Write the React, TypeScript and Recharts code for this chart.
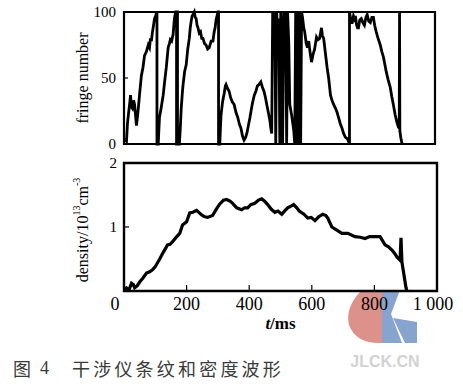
import React from "react";
import { LineChart, Line, XAxis, YAxis, ReferenceArea } from "recharts";

// fringe trace, t in ms, fringe number
const fringeTime = [
  0, 8, 11, 14, 18, 21, 24, 27, 31, 34, 37, 40, 43, 46, 51, 56, 61, 66, 72, 78, 82, 85, 88, 91, 95, 98, 102, 104, 106, 106,
  110, 114, 120, 126, 131, 136, 142, 146, 149, 153, 158, 162, 166, 169, 169, 171, 171, 172, 172,
  178, 181, 184, 188, 190, 195, 200, 205, 210, 213, 216, 219, 222, 226, 229, 232, 235, 238, 242, 246, 250, 254, 259, 264, 269, 274, 280, 286, 290, 293, 296, 299, 302, 304, 304,
  308, 310, 312, 317, 322, 326, 328, 333, 338, 343, 348, 354, 360, 366, 371, 376, 381, 386, 391, 395, 400, 405, 410, 414, 419, 424, 429, 434, 440, 445, 450, 455, 459, 464, 469, 472, 475,
  478, 482, 485, 488, 491, 494, 498, 501, 504, 507, 510, 514, 517, 520, 523, 526, 530, 533, 539, 546, 549, 552, 555, 558, 562, 565, 568, 571,
  574, 578, 581, 586, 590, 594, 598, 603, 608, 613, 619, 624, 629, 635, 638, 642, 648, 653, 658, 664, 669, 674, 680, 685, 690, 696, 701, 706, 712, 718, 722, 725, 725,
  728, 731, 734, 738, 741, 744, 748, 751, 754, 758, 763, 768, 773, 778, 782, 787, 792, 797, 802, 806, 811, 817, 824, 829, 834, 839, 843, 849, 856, 861, 866, 869, 872, 875, 878, 882, 885, 886, 887, 890, 894,
];
const fringeValue = [
  4, 2, 15, 22, 30, 37, 28, 27, 33, 30, 22, 14, 20, 27, 40, 52, 58, 67, 70, 75, 73, 80, 78, 84, 90, 95, 97, 99, 100, 0,
  0, 20, 28, 37, 48, 58, 73, 76, 79, 78, 83, 95, 100, 100, 0, 0, 100, 100, 0,
  0, 12, 27, 40, 45, 55, 60, 72, 80, 88, 93, 97, 98, 100, 96, 95, 90, 88, 84, 85, 80, 80, 76, 75, 72, 73, 78, 78, 85, 88, 94, 97, 100, 100, 0,
  0, 12, 22, 32, 38, 44, 45, 42, 40, 35, 32, 30, 24, 20, 15, 12, 6, 3, 5, 8, 14, 20, 27, 32, 37, 40, 44, 45, 47, 43, 40, 35, 30, 24, 18, 12, 8,
  100, 82, 100, 0, 100, 78, 95, 0, 100, 85, 0, 100, 88, 100, 0, 100, 75, 30, 22, 10, 0, 100, 0, 100, 0, 100, 0, 100,
  96, 88, 85, 76, 73, 78, 70, 62, 68, 72, 81, 79, 80, 88, 82, 80, 68, 58, 50, 37, 33, 30, 27, 24, 20, 15, 12, 8, 5, 4, 2, 0, 100,
  96, 92, 92, 97, 95, 97, 90, 88, 88, 94, 95, 92, 90, 96, 98, 93, 92, 96, 96, 90, 85, 80, 75, 70, 66, 60, 55, 49, 43, 36, 30, 26, 22, 19, 16, 13, 12, 100, 10, 5, 0,
];

// plasma density, 10^13 cm^-3
const densityTime = [
  0, 8, 16, 24, 30, 34, 42, 50, 60, 72, 82, 91, 100, 114, 125, 139, 147, 155, 165, 178, 187, 200, 205, 210, 220, 232, 248, 258, 267, 283,
  295, 306, 318, 328, 340, 347, 360, 376, 385, 395, 405, 418, 430, 440, 450, 459, 470, 482, 492, 504, 515, 523, 535, 542, 552, 560, 575, 587,
  598, 610, 622, 635, 645, 651, 664, 680, 696, 715, 738, 755, 770, 785, 802, 818, 834, 845, 856, 866, 872, 882, 885, 888, 901, 904,
];
const densityValue = [
  0.03, 0.05, 0.02, 0.12, 0.1, 0.05, 0.08, 0.14, 0.2, 0.28, 0.3, 0.33, 0.38, 0.5, 0.6, 0.72, 0.73, 0.77, 0.83, 0.9, 1.03, 1.08, 1.15, 1.22, 1.23, 1.26, 1.19, 1.16, 1.15, 1.18,
  1.28, 1.36, 1.42, 1.43, 1.4, 1.37, 1.3, 1.27, 1.3, 1.3, 1.35, 1.37, 1.42, 1.44, 1.4, 1.35, 1.28, 1.23, 1.25, 1.2, 1.26, 1.3, 1.33, 1.35, 1.3, 1.25, 1.2, 1.14,
  1.15, 1.1, 1.16, 1.2, 1.18, 1.14, 1.0, 0.95, 0.9, 0.9, 0.85, 0.84, 0.82, 0.85, 0.85, 0.85, 0.72, 0.69, 0.64, 0.58, 0.53, 0.48, 0.83, 0.45, 0.05, 0,
];

const fringeTicks = [0, 50, 100];
const densityTicks = [0, 1, 2];
const timeTicks = [0, 200, 400, 600, 800, 1000];
const timeTickLabels = ["0", "200", "400", "600", "800", "1 000"];

const fringeData = fringeTime.map((t, i) => ({ t, f: fringeValue[i] }));
const densityData = densityTime.map((t, i) => ({ t, d: densityValue[i] }));

const serif = "'Liberation Serif', 'DejaVu Serif', serif";

const YTick = ({ x, y, payload, hideZero }: any) => {
  if (hideZero && payload.value === 0) return null;
  return (
    <text x={x} y={y} dy="0.35em" textAnchor="end" fontFamily={serif} fontSize={15} fill="#000">
      {payload.value}
    </text>
  );
};

const TimeTick = ({ x, y, payload }: any) => {
  const i = timeTicks.indexOf(payload.value);
  const shift = payload.value === 0 ? -9 : payload.value === 1000 ? -4 : 0;
  return (
    <text x={x + shift} y={y} dy="0.71em" textAnchor="middle" fontFamily={serif} fontSize={18} fill="#000">
      {timeTickLabels[i]}
    </text>
  );
};

const FringeLabel = ({ viewBox }: any) => {
  const cx = viewBox.x + viewBox.width - 42;
  const cy = viewBox.y + viewBox.height / 2;
  return (
    <text x={cx} y={cy} transform={`rotate(-90 ${cx} ${cy})`} textAnchor="middle" dominantBaseline="central"
      fontFamily={serif} fontSize={16} fill="#000">
      fringe number
    </text>
  );
};

const DensityLabel = ({ viewBox }: any) => {
  const cx = viewBox.x + viewBox.width - 42;
  const cy = viewBox.y + viewBox.height / 2 + 3;
  return (
    <text x={cx} y={cy} transform={`rotate(-90 ${cx} ${cy})`} textAnchor="middle" dominantBaseline="central"
      fontFamily={serif} fontSize={16} fill="#000">
      density/10<tspan fontSize={10} dy={-6}>13</tspan>
      <tspan dy={6}>cm</tspan>
      <tspan fontSize={10} dy={-6}>-3</tspan>
    </text>
  );
};

const TimeLabel = ({ viewBox }: any) => {
  const cx = viewBox.x + viewBox.width / 2;
  return (
    <text x={cx} y={viewBox.y + 38} textAnchor="middle" fontFamily={serif} fontSize={17} fontWeight="bold" fill="#000">
      <tspan fontStyle="italic">t</tspan>/ms
    </text>
  );
};

export default function App() {
  return (
    <div style={{ position: "absolute", left: 0, top: 0, width: 463, height: 390, background: "#fff", overflow: "hidden" }}>
      <svg width={463} height={390} style={{ position: "absolute", left: 0, top: 0 }}>
        <path d="M 378 290 L 382 290 L 382 343 Q 356 344 349 325 Q 345 308 360 292 Z" fill="#dc918b" />
        <path d="M 382 290 L 400 290 L 391 314 L 402 343 L 382 343 Z" fill="#86a4cd" />
        <path d="M 393 318 L 417 322 L 417 343 L 405 343 Z" fill="#86a4cd" />
        <text x={385} y={367} textAnchor="middle" fontFamily="'Liberation Sans', sans-serif" fontWeight="bold" fontSize={16} fill="#d2d2d2">
          JLCK.CN
        </text>
      </svg>
      <div style={{ position: "absolute", left: 0, top: 0 }}>
        <LineChart width={463} height={160} data={fringeData} margin={{ top: 12, right: 28, bottom: 16, left: 0 }}>
          <XAxis dataKey="t" type="number" domain={[0, 1000]} hide />
          <YAxis type="number" domain={[0, 100]} ticks={fringeTicks} width={124} axisLine={false}
            tickSize={-4} tickMargin={12} tickLine={{ stroke: "#000", strokeWidth: 1.2 }}
            tick={<YTick />} label={<FringeLabel />} />
          <ReferenceArea x1={0} x2={1000} y1={0} y2={100} fill="none" stroke="#000" strokeWidth={2.2} />
          <Line type="linear" dataKey="f" stroke="#000" strokeWidth={2.8} dot={false} isAnimationActive={false} />
        </LineChart>
      </div>
      <div style={{ position: "absolute", left: 0, top: 0 }}>
        <LineChart width={463} height={340} data={densityData} margin={{ top: 163, right: 26, bottom: 0, left: 0 }}>
          <XAxis dataKey="t" type="number" domain={[0, 1000]} ticks={timeTicks} height={49} axisLine={false}
            tickSize={-6} tickMargin={12} tickLine={{ stroke: "#000", strokeWidth: 1.2 }}
            tick={<TimeTick />} label={<TimeLabel />} />
          <YAxis type="number" domain={[0, 2]} ticks={densityTicks} width={124} axisLine={false}
            tickSize={-5} tickMargin={12} tickLine={{ stroke: "#000", strokeWidth: 1.2 }}
            tick={<YTick hideZero />} label={<DensityLabel />} />
          <ReferenceArea x1={0} x2={1000} y1={0} y2={2} fill="none" stroke="#000" strokeWidth={2.4} />
          <Line type="linear" dataKey="d" stroke="#000" strokeWidth={3.2} dot={false} isAnimationActive={false} />
        </LineChart>
      </div>
      <div style={{ position: "absolute", left: 13, top: 357, fontFamily: "'Noto Sans CJK SC', sans-serif", fontSize: 18, color: "#3a3a3a", whiteSpace: "nowrap", lineHeight: "22px" }}>
        <span style={{ position: "absolute", left: 0 }}>图</span>
        <span style={{ position: "absolute", left: 27, fontFamily: serif }}>4</span>
        <span style={{ position: "absolute", left: 59, letterSpacing: 3.2 }}>干涉仪条纹和密度波形</span>
      </div>
    </div>
  );
}
